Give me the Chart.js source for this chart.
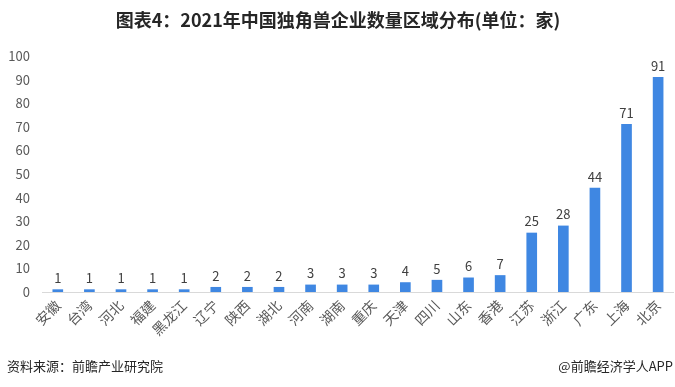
<!DOCTYPE html>
<html>
<head>
<meta charset="utf-8">
<script src="https://cdn.jsdelivr.net/npm/chart.js@4"></script>
<style>
  html, body { margin: 0; padding: 0; background: #fff; }
  #wrap { width: 675px; height: 387px; position: relative; }
</style>
</head>
<body>
<div id="wrap"><canvas id="myChart"></canvas></div>
<script>
const regions = ['安徽', '台湾', '河北', '福建', '黑龙江', '辽宁', '陕西', '湖北', '河南', '湖南',
  '重庆', '天津', '四川', '山东', '香港', '江苏', '浙江', '广东', '上海', '北京'];
const unicornCounts = [1, 1, 1, 1, 1, 2, 2, 2, 3, 3, 3, 4, 5, 6, 7, 25, 28, 44, 71, 91];
const yTicks = [0, 10, 20, 30, 40, 50, 60, 70, 80, 90, 100];

const titleText = '图表4：2021年中国独角兽企业数量区域分布(单位：家)';
const sourceText = '资料来源：前瞻产业研究院';
const brandText = '@前瞻经济学人APP';

const cjk = '"Noto Sans CJK SC", "Noto Sans", sans-serif';

// value labels above bars + title and footer text
const decorations = {
  id: 'decorations',
  afterDatasetsDraw(chart) {
    const c = chart.ctx;
    c.save();
    c.fillStyle = '#404040';
    c.font = '13px ' + cjk;
    c.textAlign = 'center';
    c.textBaseline = 'bottom';
    chart.getDatasetMeta(0).data.forEach((bar, i) => {
      c.fillText(unicornCounts[i], bar.x, bar.y - 5);
    });
    c.restore();
  },
  afterDraw(chart) {
    const c = chart.ctx;
    c.save();
    c.fillStyle = '#262626';
    c.font = 'bold 18px ' + cjk;
    c.textAlign = 'center';
    c.textBaseline = 'middle';
    c.fillText(titleText, 338, 20);
    c.font = '13px ' + cjk;
    c.fillStyle = '#262626';
    c.textAlign = 'left';
    c.fillText(sourceText, 7, 366);
    c.textAlign = 'right';
    c.fillText(brandText, 673, 366);
    c.restore();
  }
};

const ctx = document.getElementById('myChart').getContext('2d');
const myChart = new Chart(ctx, {
  type: 'bar',
  data: {
    labels: regions,
    datasets: [{
      label: '独角兽企业数量',
      data: unicornCounts,
      backgroundColor: '#3F87E2',
      barThickness: 10
    }]
  },
  options: {
    responsive: true,
    maintainAspectRatio: false,
    animation: false,
    layout: { padding: { top: 56, bottom: 45, left: 0, right: 0 } },
    plugins: {
      legend: { display: false },
      tooltip: { enabled: false }
    },
    scales: {
      x: {
        grid: { display: false, drawTicks: false },
        border: { color: '#D9D9D9', width: 1 },
        ticks: {
          color: '#595959',
          font: { size: 14, family: cjk },
          maxRotation: 45,
          minRotation: 45,
          autoSkip: false,
          padding: 5
        },
        afterFit(scale) { scale.height = 50; }
      },
      y: {
        min: 0,
        max: 100,
        grid: { display: false, drawTicks: false },
        border: { display: false },
        afterBuildTicks(scale) { scale.ticks = yTicks.map(v => ({ value: v })); },
        ticks: {
          color: '#595959',
          font: { size: 13, family: cjk },
          padding: 12
        },
        afterFit(scale) { scale.width = 42; }
      }
    }
  },
  plugins: [decorations]
});
</script>
</body>
</html>
